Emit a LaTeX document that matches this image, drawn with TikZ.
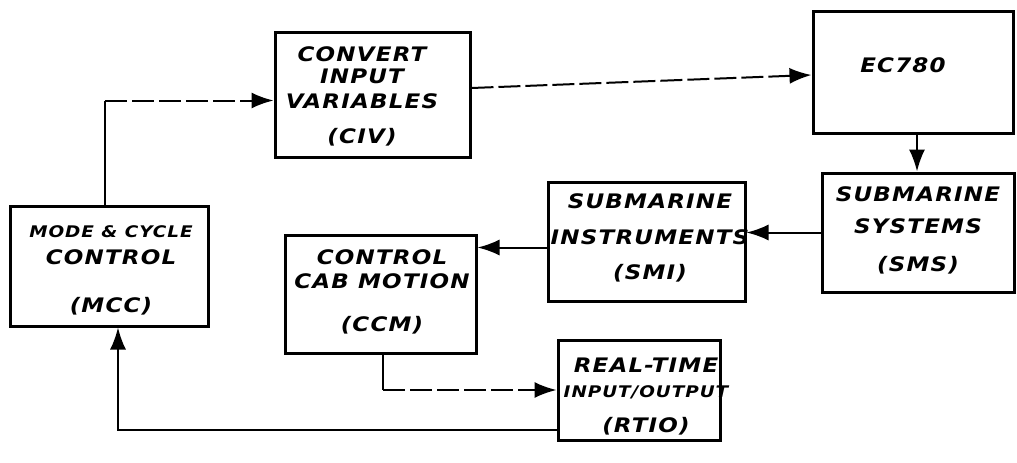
\documentclass[tikz,border=0pt]{standalone}
\usepackage{fontspec}
\newfontfamily\handfont[FakeStretch=1.15,LetterSpace=6]{DejaVu Sans}
\usetikzlibrary{arrows.meta}
\tikzset{
  box/.style={draw=black, line width=3pt, rectangle, inner sep=0pt},
  hand/.style={font=\handfont\bfseries\itshape\fontsize{20}{24}\selectfont, align=center, inner sep=0pt},
  wire/.style={draw=black, line width=2pt},
  conn/.style={wire, -{Latex[length=22pt,width=16pt]}},
  faint/.style={dash pattern=on 22pt off 5pt}
}
\begin{document}
\begin{tikzpicture}[x=1pt,y=-1pt]
\path[use as bounding box] (0,0) rectangle (1017,463);
% boxes
\node[box, minimum width=195pt, minimum height=125pt] (civ)  at (372.5,94.5) {};
\node[box, minimum width=200pt, minimum height=122pt] (ec)   at (913,72) {};
\node[box, minimum width=192pt, minimum height=119pt] (sms)  at (918,232.5) {};
\node[box, minimum width=197pt, minimum height=119pt] (smi)  at (646.5,241.5) {};
\node[box, minimum width=191pt, minimum height=118pt] (ccm)  at (380.5,294) {};
\node[box, minimum width=198pt, minimum height=120pt] (mcc)  at (109,266) {};
\node[box, minimum width=162pt, minimum height=100pt] (rtio) at (639,390) {};
% texts
\node[hand] (civt)  at (362,96)    {CONVERT\\[-2pt]INPUT\\[1pt]VARIABLES\\[11pt](CIV)};
\node[hand] (ect)   at (903,65)    {EC780};
\node[hand] (smst)  at (918,230)   {SUBMARINE\\[8pt]SYSTEMS\\[14pt](SMS)};
\node[hand] (smit)  at (650,237.5) {SUBMARINE\\[12pt]INSTRUMENTS\\[11pt](SMI)};
\node[hand] (ccmt)  at (382,291.5) {CONTROL\\[0pt]CAB MOTION\\[19pt](CCM)};
\node[hand] (mcct)  at (111,270.5) {{\fontsize{16}{24}\selectfont MODE \& CYCLE}\\[3pt]CONTROL\\[24pt](MCC)};
\node[hand] (rtiot) at (646,397)   {REAL-TIME\\[1pt]{\fontsize{16}{24}\selectfont INPUT/OUTPUT}\\[11pt](RTIO)};
% connectors
\path ([xshift=-4pt]mcc.north) |- coordinate[pos=0.5] (k1) ([yshift=-6pt]civ.west);
\draw[wire] ([xshift=-4pt]mcc.north) -- (k1);
\draw[conn, faint] (k1) -- ([yshift=-6pt]civ.west);
\draw[conn, faint] ([yshift=6.5pt]civ.east) -- ([yshift=-3pt]ec.west);
\draw[conn] ([xshift=4pt]ec.south) -- ([xshift=4pt]ec.south |- sms.north);
\draw[conn] (sms.west) -- (sms.west -| smi.east);
\draw[conn] ([yshift=-6pt]smi.west) -- ([yshift=-6pt]smi.west -| ccm.east);
\path ([xshift=2.5pt]ccm.south) |- coordinate[pos=0.5] (k2) (rtio.west);
\draw[wire] ([xshift=2.5pt]ccm.south) -- (k2);
\draw[conn, faint] (k2) -- (rtio.west);
\draw[conn] ([yshift=-40pt]rtio.west) -| ([xshift=9pt]mcc.south);
\end{tikzpicture}
\end{document}
